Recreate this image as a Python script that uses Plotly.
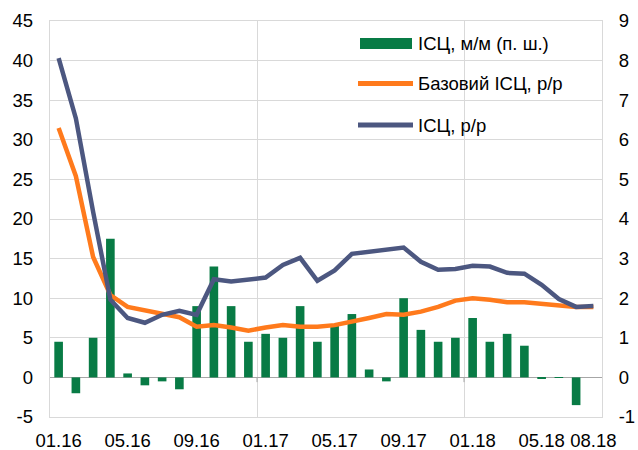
import plotly.graph_objects as go

months = ["01.16", "02.16", "03.16", "04.16", "05.16", "06.16", "07.16", "08.16",
          "09.16", "10.16", "11.16", "12.16", "01.17", "02.17", "03.17", "04.17",
          "05.17", "06.17", "07.17", "08.17", "09.17", "10.17", "11.17", "12.17",
          "01.18", "02.18", "03.18", "04.18", "05.18", "06.18", "07.18", "08.18"]

cpi_mm = [0.9, -0.4, 1.0, 3.5, 0.1, -0.2, -0.1, -0.3, 1.8, 2.8, 1.8, 0.9,
          1.1, 1.0, 1.8, 0.9, 1.3, 1.6, 0.2, -0.1, 2.0, 1.2, 0.9, 1.0,
          1.5, 0.9, 1.1, 0.8, -0.02, -0.01, -0.7, 0.0]

core_yy = [31.5, 25.4, 15.2, 10.4, 8.9, 8.5, 8.0, 7.6, 6.4, 6.6, 6.3, 5.9,
           6.3, 6.6, 6.4, 6.4, 6.6, 7.0, 7.5, 8.0, 7.9, 8.3, 8.9, 9.7,
           10.0, 9.8, 9.5, 9.5, 9.3, 9.1, 8.9, 8.9]

cpi_yy = [40.3, 32.7, 20.9, 9.8, 7.5, 6.9, 7.9, 8.4, 7.9, 12.4, 12.1, 12.4,
          12.6, 14.2, 15.1, 12.2, 13.5, 15.6, 15.9, 16.2, 16.4, 14.6, 13.6, 13.7,
          14.1, 14.0, 13.2, 13.1, 11.7, 9.9, 8.9, 9.0]

tick_idx = [0, 4, 8, 12, 16, 20, 24, 28, 31]
tick_labels = [months[i] for i in tick_idx]

left_ticks = [-5, 0, 5, 10, 15, 20, 25, 30, 35, 40, 45]
right_ticks = [-1, 0, 1, 2, 3, 4, 5, 6, 7, 8, 9]

legend_names = ["ІСЦ, м/м (п. ш.)", "Базовий ІСЦ, р/р", "ІСЦ, р/р"]

GREEN = "#087B45"
ORANGE = "#FF7A1C"
BLUE = "#4C5780"
GRID = "#D9D9D9"
FONT = "Liberation Sans, Arial, sans-serif"
FS = 18.5

x = list(range(len(months)))

fig = go.Figure()
fig.add_trace(go.Bar(x=x, y=cpi_mm, name=legend_names[0], marker_color=GREEN,
                     marker_line_width=0, yaxis="y", showlegend=False))
fig.add_trace(go.Scatter(x=x, y=core_yy, name=legend_names[1], mode="lines",
                         line=dict(color=ORANGE, width=4.5), yaxis="y2", showlegend=False))
fig.add_trace(go.Scatter(x=x, y=cpi_yy, name=legend_names[2], mode="lines",
                         line=dict(color=BLUE, width=4.5), yaxis="y2", showlegend=False))

# plot area geometry (pixels)
L, R, T, B = 50, 36, 21, 33
W, H = 638, 450
PW, PH = W - L - R, H - T - B

def px(xp):
    return (xp - L) / PW

def py(yp):
    return (H - B - yp) / PH

# manual legend
fig.add_shape(type="rect", xref="paper", yref="paper",
              x0=px(360), x1=px(412), y0=py(49), y1=py(38),
              fillcolor=GREEN, line_width=0)
fig.add_shape(type="line", xref="paper", yref="paper",
              x0=px(358), x1=px(413), y0=py(83.5), y1=py(83.5),
              line=dict(color=ORANGE, width=5))
fig.add_shape(type="line", xref="paper", yref="paper",
              x0=px(358), x1=px(413), y0=py(125), y1=py(125),
              line=dict(color=BLUE, width=5))
for name, yp in zip(legend_names, [43.5, 84, 125.5]):
    fig.add_annotation(text=name, xref="paper", yref="paper", x=px(416), y=py(yp),
                       xanchor="left", yanchor="middle", showarrow=False,
                       font=dict(family=FONT, size=FS, color="#000000"))

# small tick marks on the zero axis at year boundaries
for xv in [11.5, 23.5]:
    fig.add_shape(type="line", xref="x", yref="y", x0=xv, x1=xv, y0=0, y1=-0.12,
                  line=dict(color="#A6A6A6", width=1))

fig.update_layout(
    width=W, height=H,
    margin=dict(l=L, r=R, t=T, b=B, pad=0, autoexpand=False),
    paper_bgcolor="white", plot_bgcolor="white",
    font=dict(family=FONT, size=FS, color="#000000"),
    bargap=0.5,
    xaxis=dict(range=[-0.5, 31.5], tickmode="array", tickvals=tick_idx,
               ticktext=tick_labels, tickangle=0, showgrid=False, zeroline=False,
               showline=True, mirror=True, linecolor=GRID, linewidth=1,
               ticks="", ticklabelstandoff=7, automargin=False,
               minor=dict(tick0=11.5, dtick=12, showgrid=True, gridcolor=GRID,
                          gridwidth=1, ticks="")),
    yaxis=dict(range=[-1, 9], tickmode="array", tickvals=right_ticks,
               ticktext=[str(v) for v in right_ticks], side="right",
               showgrid=True, gridcolor=GRID,
               gridwidth=1, zeroline=True, zerolinecolor="#A6A6A6", zerolinewidth=1,
               showline=True, mirror=True, linecolor=GRID, linewidth=1,
               ticks="", ticklabelstandoff=12, automargin=False),
    yaxis2=dict(range=[-5, 45], tickmode="array", tickvals=left_ticks,
                ticktext=[str(v) for v in left_ticks], side="left", overlaying="y",
                showgrid=False, zeroline=False, showline=False,
                ticks="", ticklabelstandoff=16, automargin=False),
)

fig.write_html("out.html", config={"displayModeBar": False},
               post_script="document.body.style.margin='0';document.body.style.overflow='hidden';")
